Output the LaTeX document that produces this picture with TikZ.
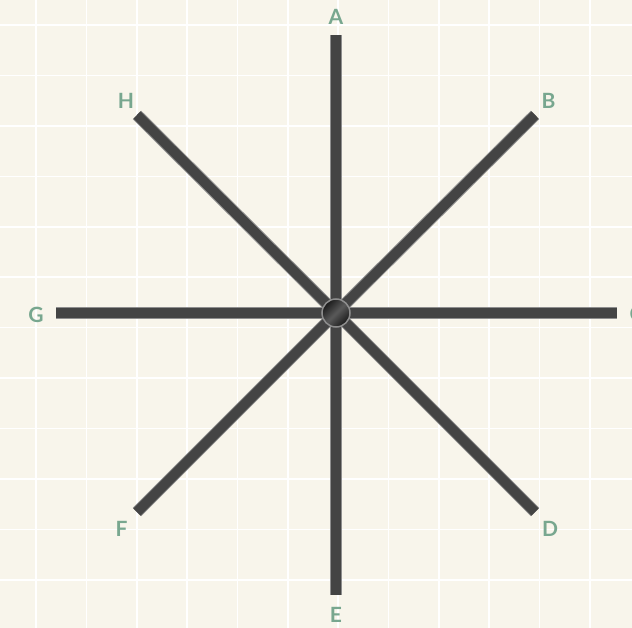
\documentclass[tikz,border=0pt]{standalone}
\usepackage{fontspec}
\setmainfont{Lato}
\definecolor{bgcol}{HTML}{F8F5EB}
\definecolor{gridcol}{HTML}{FFFFFF}
\definecolor{spoke}{HTML}{444444}
\definecolor{spokeedge}{HTML}{8E8E8E}
\definecolor{labcol}{HTML}{78A78F}
\begin{document}
\begin{tikzpicture}[x=1pt,y=-1pt,
  spokeout/.style={draw=spokeedge,line width=12pt,line cap=butt},
  spokein/.style={draw=spoke,line width=10pt,line cap=butt},
  lab/.style={text=labcol,font=\fontsize{21}{21}\selectfont\bfseries,inner sep=0pt,anchor=center},
  hub/.style={circle,minimum size=28pt,inner sep=0pt,draw=spokeedge,line width=1.5pt,
    top color=black!90,bottom color=black!90,middle color=black!65,shading angle=45}]
\fill[bgcol] (0,0) rectangle (632,628);
\useasboundingbox (0,0) rectangle (632,628);
\foreach \i in {0,...,11}{
  \draw[gridcol,line width=1.6pt] ({36+50.35*\i},0) -- ({36+50.35*\i},628);
  \draw[gridcol,line width=1.6pt] (0,{25+50.45*\i}) -- (632,{25+50.45*\i});
}
\coordinate (O) at (336,313);
\coordinate (pA) at (336,35);
\coordinate (pB) at (535,115);
\coordinate (pC) at (617,313);
\coordinate (pD) at (535,512);
\coordinate (pE) at (336,595);
\coordinate (pF) at (137,512);
\coordinate (pG) at (56,313);
\coordinate (pH) at (137,115);
\foreach \p in {pA,pB,pC,pD,pE,pF,pG,pH}{
  \draw[spokeout,shorten <=-1pt] (O) -- (\p);
}
\foreach \p in {pA,pB,pC,pD,pE,pF,pG,pH}{
  \draw[spokein] (O) -- (\p);
}
\node[hub] (hub) at (O) {};
\node[lab] (lA) at (336,17) {A};
\node[lab] (lB) at (548.5,100.5) {B};
\node[lab] (lC) at (636.5,314) {C};
\node[lab] (lD) at (550,529) {D};
\node[lab] (lE) at (336,615) {E};
\node[lab] (lF) at (121.5,529) {F};
\node[lab] (lG) at (36,314.5) {G};
\node[lab] (lH) at (126,101) {H};
\end{tikzpicture}
\end{document}
